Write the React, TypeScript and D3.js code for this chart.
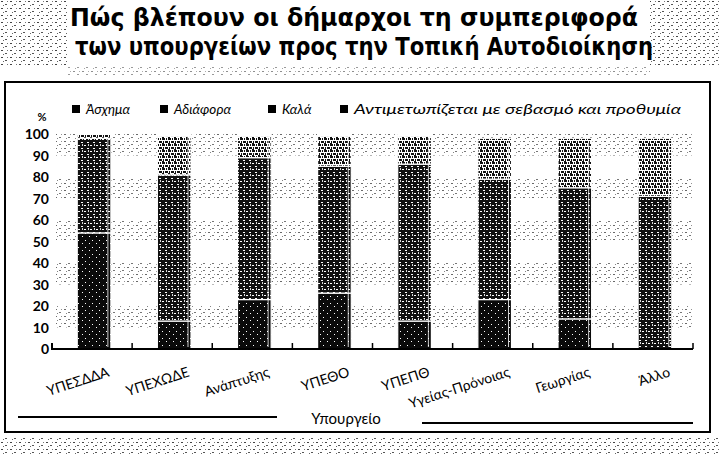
import React from "react";
import * as d3 from "d3";

const categories = ["ΥΠΕΣΔΔΑ", "ΥΠΕΧΩΔΕ", "Ανάπτυξης", "ΥΠΕΘΟ", "ΥΠΕΠΘ", "Υγείας-Πρόνοιας", "Γεωργίας", "Άλλο"];
const seriesNames = ["Άσχημα", "Αδιάφορα", "Καλά", "Αντιμετωπίζεται με σεβασμό και προθυμία"];
const asxhma = [54, 13, 23, 26, 13, 23, 14, 0];
const adiafora = [44, 68, 66, 59, 73, 56, 61, 71];
const kala = [2, 18, 10, 14, 13, 19, 23, 27];
const antim = [0, 1, 1, 1, 1, 0, 0, 0];
const yTicks = [0, 10, 20, 30, 40, 50, 60, 70, 80, 90, 100];
const bandStarts = [10, 30, 50, 70, 90];
const titleLines = ["Πώς βλέπουν οι δήμαρχοι τη συμπεριφορά", "των υπουργείων προς την Τοπική Αυτοδιοίκηση"];

const width = 721;
const height = 454;
const margin = { top: 134, right: 28, bottom: 105, left: 52 };

export default function App() {
  const rows = categories.map((c, i) => ({
    cat: c,
    [seriesNames[0]]: asxhma[i],
    [seriesNames[1]]: adiafora[i],
    [seriesNames[2]]: kala[i],
    [seriesNames[3]]: antim[i],
  }));
  const stacked = d3.stack<any>().keys(seriesNames)(rows);

  const x = d3.scaleBand().domain(categories).range([margin.left, width - margin.right]).padding(0);
  const y = d3.scaleLinear().domain([0, 100]).range([height - margin.bottom, margin.top]);
  const barW = x.bandwidth() * 0.42;
  const barX = (c: string) => (x(c) as number) + (x.bandwidth() - barW) / 2 + 2;
  const fills = ["url(#pBad)", "url(#pIndif)", "url(#pGood)", "url(#pResp)"];
  const base = y(0);

  return (
    <svg width={width} height={height} style={{ position: "absolute", left: 0, top: 0, background: "#fff" }}>
      <defs>
        <pattern id="pBad" width="7" height="7" patternUnits="userSpaceOnUse">
          <rect width="7" height="7" fill="#0a0a0a" />
          <rect x="1" y="2" width="1" height="1" fill="#fff" />
          <rect x="5" y="5" width="1" height="1" fill="#fff" />
        </pattern>
        <pattern id="pIndif" width="6" height="6" patternUnits="userSpaceOnUse">
          <rect width="6" height="6" fill="#111" />
          <rect x="0" y="1" width="2" height="1" fill="#fff" />
          <rect x="3" y="4" width="2" height="1" fill="#fff" />
          <rect x="4" y="0" width="1" height="2" fill="#ddd" />
        </pattern>
        <pattern id="pGood" width="6" height="6" patternUnits="userSpaceOnUse">
          <rect width="6" height="6" fill="#fff" />
          <rect x="0" y="0" width="3" height="2" fill="#111" />
          <rect x="3" y="3" width="3" height="2" fill="#111" />
          <rect x="1" y="3" width="1" height="2" fill="#111" />
          <rect x="4" y="0" width="1" height="2" fill="#111" />
          <rect x="0" y="5" width="2" height="1" fill="#111" />
        </pattern>
        <pattern id="pResp" width="5" height="5" patternUnits="userSpaceOnUse">
          <rect width="5" height="5" fill="#fff" />
          <rect x="1" y="1" width="2" height="2" fill="#222" />
        </pattern>
        <pattern id="pWall" width="9" height="7" patternUnits="userSpaceOnUse">
          <rect width="9" height="7" fill="#fff" />
          <rect x="1" y="1" width="2" height="1" fill="#444" />
          <rect x="5" y="4" width="2" height="1" fill="#555" />
          <rect x="7" y="1" width="1" height="1" fill="#777" />
          <rect x="3" y="5" width="1" height="1" fill="#666" />
        </pattern>
      </defs>

      {/* title with speckled edges */}
      <rect x={0} y={0} width={68} height={66} fill="url(#pWall)" />
      <rect x={650} y={0} width={71} height={66} fill="url(#pWall)" />
      <rect x={68} y={65} width={582} height={10} fill="url(#pWall)" opacity={0.6} />
      {titleLines.map((t, i) => (
        <text key={i} x={70 + i * 5} y={26 + i * 29} fontFamily="'DejaVu Sans Condensed', 'DejaVu Sans', sans-serif"
          fontWeight="bold" fontSize={25} textLength={i === 0 ? 568 : 578} lengthAdjust="spacingAndGlyphs" fill="#000">
          {t}
        </text>
      ))}

      {/* frame */}
      <rect x={5} y={82} width={705} height={350} fill="none" stroke="#000" strokeWidth={2} />
      <rect x={0} y={438} width={721} height={16} fill="url(#pWall)" />

      {/* legend */}
      <g fontFamily="Lato, 'Noto Sans', sans-serif" fontSize={13.5} fontStyle="italic">
        {[72, 160, 268, 340].map((lx, i) => (
          <g key={i} transform={`translate(${lx},${105})`}>
            <rect width={8} height={8} fill="#000" />
            <text x={14} y={9} textLength={i === 3 ? 327 : undefined} lengthAdjust="spacingAndGlyphs">{seriesNames[i]}</text>
          </g>
        ))}
      </g>

      {/* back wall bands */}
      {bandStarts.map(b => (
        <rect key={b} x={margin.left + 4} y={y(b + 10)} width={width - margin.right - margin.left - 4} height={y(b) - y(b + 10)} fill="url(#pWall)" opacity={0.8} />
      ))}

      {/* y axis labels */}
      <text x={42} y={121} fontFamily="Lato, sans-serif" fontWeight="bold" fontSize={11} textAnchor="middle">%</text>
      {yTicks.map(t => (
        <text key={t} x={49} y={y(t) + 5} textAnchor="end" fontFamily="Lato, 'Noto Sans', sans-serif" fontWeight="bold" fontSize={14}>{t}</text>
      ))}

      {/* bars */}
      {stacked.map((s, si) => (
        <g key={s.key}>
          {s.map((d, i) => (
            d[1] - d[0] > 0 ? (
              <rect key={i} x={barX(categories[i])} y={y(d[1])}
                width={barW} height={y(d[0]) - y(d[1])} fill={fills[si]} stroke="#fff" strokeWidth={1.2} />
            ) : null
          ))}
        </g>
      ))}
      {/* thin highlight at the right edge of each bar */}
      {categories.map((c, i) => {
        const total = asxhma[i] + adiafora[i] + kala[i] + antim[i];
        return (
          <line key={c} x1={barX(c) + barW - 3} x2={barX(c) + barW - 3} y1={y(total) + 3} y2={base - 2}
            stroke="#fff" strokeWidth={1} opacity={0.8} />
        );
      })}

      {/* baseline with category ticks */}
      <path d={`M${margin.left},${base - 6}V${base}H${width - margin.right}`} fill="none" stroke="#000" strokeWidth={2} />
      {categories.map((c) => (
        <line key={c} x1={(x(c) as number) + x.bandwidth()} x2={(x(c) as number) + x.bandwidth()} y1={base} y2={base - 6} stroke="#000" strokeWidth={1.5} />
      ))}

      {/* category labels */}
      {categories.map(c => (
        <text key={c} transform={`translate(${(x(c) as number) + x.bandwidth() / 2 + 18},${376}) rotate(-18)`}
          textAnchor="end" fontFamily="Lato, 'Noto Sans', sans-serif" fontSize={14}>{c}</text>
      ))}

      {/* x axis title */}
      <line x1={18} x2={277} y1={417} y2={417} stroke="#000" strokeWidth={2} />
      <line x1={422} x2={693} y1={423} y2={423} stroke="#000" strokeWidth={2} />
      <text x={346} y={424} textAnchor="middle" fontFamily="Lato, 'Noto Sans', sans-serif" fontSize={15}>Υπουργείο</text>
    </svg>
  );
}
